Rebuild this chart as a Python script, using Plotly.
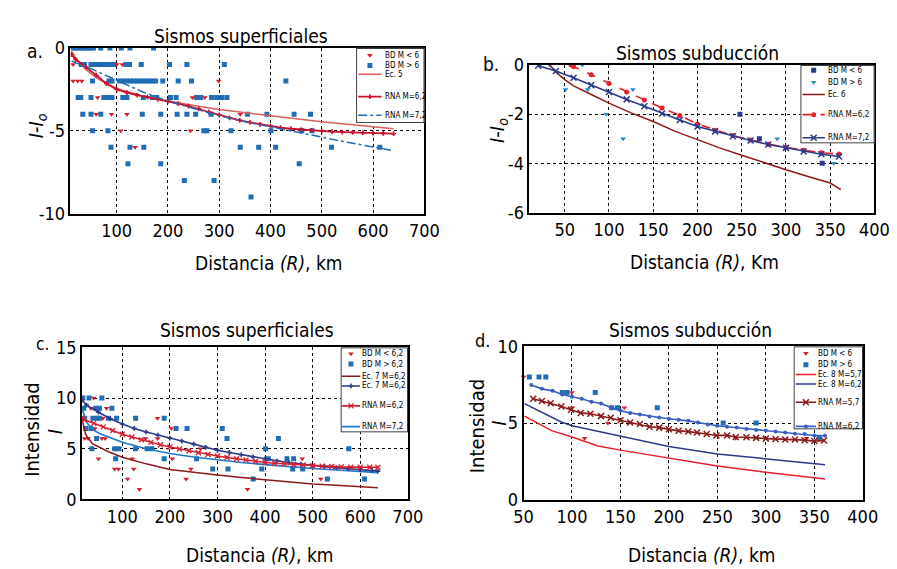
import plotly.graph_objects as go

W, H = 897, 569
FONT = "DejaVu Sans Condensed"

# ---------------- Panel a: Sismos superficiales (I - I0) ----------------
a_lt6_rows = [  # BD M < 6 (red triangles): (I-I0, distances)
    (-1, [15, 100, 111]),
    (-2, [15, 24, 32, 299]),
    (-3, [63, 248, 272]),
    (-4, [60, 90, 120, 341]),
    (-5, [108, 244]),
    (-6, [136]),
]
a_gt6_rows = [  # BD M > 6 (blue squares)
    (0, [15, 20, 25, 30, 35, 40, 45, 50, 55, 69, 87, 109, 126, 172]),
    (-1, [31, 37, 50, 55, 60, 65, 70, 75, 80, 87, 94, 118, 125, 148, 203, 237, 310]),
    (-2, [53, 85, 91, 106, 113, 120, 127, 134, 141, 148, 155, 162, 169, 176, 190, 220, 246, 430]),
    (-3, [25, 30, 50, 75, 83, 91, 112, 120, 152, 170, 178, 205, 216, 256, 264, 285, 295, 305, 315]),
    (-4, [34, 50, 69, 150, 186, 218, 237, 254, 284, 355, 393, 446, 478]),
    (-5, [53, 83, 270, 276, 323, 401, 461, 481]),
    (-6, [89, 126, 153, 341, 377, 410, 519, 613]),
    (-7, [122, 186, 456]),
    (-8, [232, 290]),
    (-9, [362]),
]
a_ec5_x = [12, 20, 40, 60, 80, 100, 150, 200, 250, 300, 350, 400, 450, 500, 550, 600, 640]
a_ec5_y = [-0.2, -0.6, -1.3, -1.8, -2.15, -2.45, -2.9, -3.2, -3.48, -3.72, -3.92, -4.1, -4.28, -4.46, -4.62, -4.76, -4.88]
a_rna62_x = [12, 20, 40, 60, 80, 100, 120, 140, 160, 180, 200, 220, 240, 260, 280, 300, 320, 340, 360,
             380, 400, 420, 440, 460, 480, 500, 520, 540, 560, 580, 600, 620, 640]
a_rna62_y = [-0.4, -0.7, -1.15, -1.65, -2.15, -2.5, -2.7, -2.85, -2.97, -3.1, -3.22, -3.37, -3.52, -3.68,
             -3.87, -4.05, -4.22, -4.37, -4.5, -4.62, -4.72, -4.82, -4.88, -4.93, -4.98, -5.02, -5.06,
             -5.08, -5.1, -5.12, -5.14, -5.16, -5.18]
a_rna72_x = [12, 50, 100, 150, 200, 250, 300, 350, 400, 450, 500, 550, 600, 640]
a_rna72_y = [-0.8, -1.25, -1.95, -2.65, -3.2, -3.65, -4.1, -4.45, -4.77, -5.08, -5.4, -5.7, -5.98, -6.2]

# ---------------- Panel b: Sismos subducción (I - I0) ----------------
b_lt6_x = [248, 270, 341]
b_lt6_y = [-2, -3, -4]
b_gt6_x = [22, 33, 60, 70, 51, 76, 127, 97, 116, 290, 354]
b_gt6_y = [0, 0, 0, 0, -1, -1, -1, -2, -3, -3, -4]
b_ec6_x = [33, 40, 50, 60, 80, 100, 125, 150, 175, 200, 225, 250, 275, 300, 325, 350, 362]
b_ec6_y = [0, -0.3, -0.6, -0.85, -1.2, -1.55, -1.95, -2.3, -2.7, -3.05, -3.37, -3.67, -3.97, -4.26, -4.53, -4.8, -5.07]
b_rna62_x = [57, 60, 80, 100, 120, 140, 160, 180, 200, 220, 240, 260, 280, 300, 320, 340, 360]
b_rna62_y = [0, -0.07, -0.4, -0.75, -1.1, -1.42, -1.75, -2.05, -2.4, -2.65, -2.87, -3.05, -3.22, -3.35,
             -3.47, -3.57, -3.62]
b_rna72_x = [20, 40, 60, 80, 100, 120, 140, 160, 180, 200, 220, 240, 260, 280, 300, 320, 340, 360]
b_rna72_y = [-0.03, -0.25, -0.52, -0.82, -1.1, -1.4, -1.68, -1.97, -2.24, -2.5, -2.7, -2.9, -3.07, -3.23,
             -3.37, -3.52, -3.63, -3.72]

# ---------------- Panel c: Sismos superficiales (Intensidad) ----------------
c_lt62_x = [15, 21, 28, 34, 40, 42, 50, 57, 64, 67, 59, 84, 92, 111, 121, 124, 136, 149, 174, 174,
            203, 205, 234, 244, 264, 363, 478, 517]
c_lt62_y = [8, 6, 6, 9, 10, 7, 4, 6, 6, 9, 8, 3, 3, 2, 4, 3, 1, 6, 8, 6, 7, 4, 2, 3, 5, 1, 4, 2]
c_gt62_x = [17, 19, 21, 23, 30, 34, 36, 38, 44, 47, 46, 52, 52, 57, 71, 78, 84, 86, 88, 93, 128, 128,
            152, 162, 188, 188, 213, 236, 256, 290, 310, 320, 322, 375, 393, 401, 407, 428, 446, 460,
            458, 479, 531, 576, 609]
c_gt62_y = [10, 9, 8, 7, 10, 7, 5, 8, 9, 8, 6, 9, 8, 10, 8, 9, 5, 4, 8, 5, 8, 5, 5, 5, 8, 4, 7, 7,
            4, 3, 7, 6, 3, 2, 3, 5, 4, 6, 4, 4, 3, 3, 2, 5, 2]
c_ec7a_x = [15, 23, 37, 54, 71, 100, 150, 200, 250, 300, 350, 400, 450, 500, 550, 600, 637]
c_ec7a_y = [8.0, 6.4, 5.5, 5.1, 4.7, 4.15, 3.5, 2.95, 2.65, 2.4, 2.15, 1.93, 1.72, 1.52, 1.38, 1.27, 1.14]
c_ec7b_x = [15, 25, 50, 75, 100, 125, 150, 175, 200, 225, 250, 275, 300, 325, 350, 375, 400, 425, 450,
            475, 500, 525, 550, 575, 600, 625, 637]
c_ec7b_y = [9.8, 9.3, 8.6, 7.95, 7.43, 7.0, 6.65, 6.33, 6.04, 5.75, 5.45, 5.13, 4.84, 4.62, 4.4, 4.18,
            3.99, 3.8, 3.63, 3.47, 3.32, 3.22, 3.12, 3.03, 2.94, 2.85, 2.78]
c_rna62_x = [15, 20, 40, 60, 80, 100, 120, 140, 160, 180, 200, 220, 240, 260, 280, 300, 320, 340, 360,
             380, 400, 420, 440, 460, 480, 500, 520, 540, 560, 580, 600, 620, 637]
c_rna62_y = [8.0, 7.85, 7.5, 7.15, 6.8, 6.42, 6.15, 5.88, 5.62, 5.38, 5.16, 4.97, 4.8, 4.6, 4.42, 4.27,
             4.13, 4.0, 3.88, 3.76, 3.64, 3.56, 3.5, 3.44, 3.38, 3.32, 3.28, 3.24, 3.2, 3.18, 3.16, 3.16, 3.16]
c_rna72_x = [15, 25, 37, 50, 64, 80, 100, 150, 200, 250, 300, 350, 400, 450, 500, 550, 600, 637]
c_rna72_y = [9.0, 7.6, 6.9, 6.55, 6.27, 5.95, 5.63, 5.0, 4.53, 4.18, 3.89, 3.64, 3.42, 3.22, 3.04, 2.9,
             2.78, 2.63]

# ---------------- Panel d: Sismos subducción (Intensidad) ----------------
d_lt6_x = [50, 100, 100, 113, 137, 154, 269, 342]
d_lt6_y = [8, 7, 6, 4, 5, 6, 4, 4]
d_gt6_x = [56, 66, 73, 90, 95, 124, 141, 147, 188, 256, 290, 355]
d_gt6_y = [8, 8, 8, 7, 7, 7, 6, 6, 6, 5, 5, 4]
d_ec857_x = [51, 79, 100, 127, 150, 200, 250, 300, 350, 361]
d_ec857_y = [5.45, 4.5, 4.09, 3.5, 3.23, 2.7, 2.2, 1.78, 1.4, 1.34]
d_ec862_x = [51, 89, 100, 150, 200, 250, 300, 350, 361]
d_ec862_y = [6.27, 5.07, 4.82, 4.13, 3.46, 2.98, 2.66, 2.35, 2.28]
d_rna57_x = [60, 69, 78, 89, 99, 109, 119, 130, 140, 150, 160, 170, 180, 190, 200, 210, 220, 229, 239,
             249, 260, 269, 280, 290, 300, 310, 320, 330, 340, 350, 360]
d_rna57_y = [6.58, 6.44, 6.29, 6.08, 5.87, 5.66, 5.6, 5.45, 5.35, 5.18, 5.03, 4.93, 4.76, 4.7, 4.59, 4.49,
             4.44, 4.38, 4.28, 4.19, 4.19, 4.09, 4.07, 4.03, 3.98, 3.96, 3.92, 3.92, 3.88, 3.82, 3.86]
d_rna62_x = [58, 69, 80, 90, 100, 110, 120, 130, 140, 150, 160, 170, 180, 190, 200, 210, 220, 230, 240,
             250, 260, 270, 280, 290, 300, 310, 320, 330, 340, 350, 361]
d_rna62_y = [7.48, 7.23, 7.1, 6.86, 6.71, 6.58, 6.39, 6.27, 6.02, 5.81, 5.66, 5.56, 5.42, 5.36, 5.28,
             5.22, 5.14, 5.03, 4.91, 4.82, 4.76, 4.7, 4.61, 4.55, 4.51, 4.44, 4.38, 4.3, 4.28, 4.19, 4.17]

# ---------------- styles ----------------
RED_T = "#d2202e"
BLUE_S = "#1f6db5"
NAVY = "#2b3a8a"
DARKRED = "#8b1a1a"
LIGHTRED = "#d9605a"
CRIMSON = "#c8102e"
LBLUE = "#1f8ad0"
RED2 = "#e4202a"

TRI = dict(symbol="triangle-down", size=5, color=RED_T)
SQ = dict(symbol="square", size=5, color=BLUE_S)

fig = go.Figure()


def dom_x(p0, p1):
    return [p0 / W, p1 / W]


def dom_y(p0, p1):
    return [1 - p1 / H, 1 - p0 / H]


def rows_xy(rows):
    xs, ys = [], []
    for yv, xl in rows:
        xs += xl
        ys += [yv] * len(xl)
    return xs, ys


def add(ax, x, y, mode, line=None, marker=None, clip=True):
    fig.add_trace(go.Scatter(x=x, y=y, mode=mode, line=line, marker=marker, showlegend=False,
                             hoverinfo="skip", cliponaxis=clip,
                             xaxis="x" + ("" if ax == 1 else str(ax)),
                             yaxis="y" + ("" if ax == 1 else str(ax))))


# Panel a
ax_, ay_ = rows_xy(a_gt6_rows)
add(1, ax_, ay_, "markers", marker=SQ)
ax_, ay_ = rows_xy(a_lt6_rows)
add(1, ax_, ay_, "markers", marker=TRI)
A_EC5 = dict(color=LIGHTRED, width=1.5)
A_R62 = dict(color=CRIMSON, width=1.8)
A_R62M = dict(symbol="cross", size=4, color=CRIMSON)
A_R72 = dict(color=BLUE_S, width=1.5, dash="dashdot")
add(1, a_ec5_x, a_ec5_y, "lines", line=A_EC5)
add(1, a_rna62_x, a_rna62_y, "lines+markers", line=A_R62, marker=A_R62M)
add(1, a_rna72_x, a_rna72_y, "lines", line=A_R72)

# Panel b
B_SQ = dict(symbol="square", size=5, color=NAVY)
B_TRI = dict(symbol="triangle-down", size=5, color=LBLUE)
B_EC6 = dict(color=DARKRED, width=1.5)
B_R62 = dict(color=RED2, width=1.6, dash="dash")
B_R62M = dict(symbol="circle", size=5, color=RED2)
B_R72 = dict(color=NAVY, width=1.6)
B_R72M = dict(symbol="x-thin", size=6, color=NAVY, line=dict(width=1.5, color=NAVY))
add(2, b_lt6_x, b_lt6_y, "markers", marker=B_SQ)
add(2, b_gt6_x, b_gt6_y, "markers", marker=B_TRI)
add(2, b_ec6_x, b_ec6_y, "lines", line=B_EC6)
add(2, b_rna62_x, b_rna62_y, "lines+markers", line=B_R62, marker=B_R62M)
add(2, b_rna72_x, b_rna72_y, "lines+markers", line=B_R72, marker=B_R72M)

# Panel c
C_EC7A = dict(color=DARKRED, width=1.5)
C_EC7B = dict(color=NAVY, width=1.6)
C_EC7BM = dict(symbol="cross", size=4, color=NAVY)
C_R62 = dict(color="#d42030", width=1.6)
C_R62M = dict(symbol="x-thin", size=5, color="#d42030", line=dict(width=1.3, color="#d42030"))
C_R72 = dict(color="#1f78c8", width=1.6)
add(3, c_lt62_x, c_lt62_y, "markers", marker=TRI)
add(3, c_gt62_x, c_gt62_y, "markers", marker=SQ)
add(3, c_ec7a_x, c_ec7a_y, "lines", line=C_EC7A)
add(3, c_rna72_x, c_rna72_y, "lines", line=C_R72)
add(3, c_ec7b_x, c_ec7b_y, "lines+markers", line=C_EC7B, marker=C_EC7BM)
add(3, c_rna62_x, c_rna62_y, "lines+markers", line=C_R62, marker=C_R62M)

# Panel d
D_EC57 = dict(color=RED2, width=1.5)
D_EC62 = dict(color=NAVY, width=1.5)
D_R57 = dict(color=DARKRED, width=1.6)
D_R57M = dict(symbol="x-thin", size=6, color=DARKRED, line=dict(width=1.5, color=DARKRED))
D_R62 = dict(color="#3a5fc0", width=1.6)
D_R62M = dict(symbol="circle", size=4, color="#3a5fc0")
add(4, d_lt6_x, d_lt6_y, "markers", marker=TRI, clip=False)
add(4, d_gt6_x, d_gt6_y, "markers", marker=SQ)
add(4, d_ec857_x, d_ec857_y, "lines", line=D_EC57)
add(4, d_ec862_x, d_ec862_y, "lines", line=D_EC62)
add(4, d_rna57_x, d_rna57_y, "lines+markers", line=D_R57, marker=D_R57M)
add(4, d_rna62_x, d_rna62_y, "lines+markers", line=D_R62, marker=D_R62M)

# ---------------- axes ----------------
TICKF = dict(family=FONT, size=18, color="black")


def axis(domain, rng, tickvals, ticktext=None):
    d = dict(domain=domain, range=rng, tickvals=tickvals, showline=True, mirror=True,
             linecolor="black", linewidth=1.5, showgrid=True, gridcolor="black", griddash="dot",
             gridwidth=1, ticks="", zeroline=False, tickfont=TICKF, fixedrange=True)
    if ticktext is not None:
        d["ticktext"] = ticktext
    return d


a_xticks = [100, 200, 300, 400, 500, 600, 700]
a_yticks = [0, -5, -10]
b_xticks = [50, 100, 150, 200, 250, 300, 350, 400]
b_yticks = [0, -2, -4, -6]
c_xticks = [100, 200, 300, 400, 500, 600, 700]
c_yticks = [0, 5, 10, 15]
d_xticks = [50, 100, 150, 200, 250, 300, 350, 400]
d_yticks = [0, 5, 10]

layout = dict(
    width=W, height=H, margin=dict(l=0, r=0, t=0, b=0),
    paper_bgcolor="white", plot_bgcolor="white", showlegend=False,
    font=dict(family=FONT, color="black"),
    xaxis=axis(dom_x(54, 418), [10, 700], a_xticks),
    yaxis=axis(dom_y(30, 202), [-10, 0], a_yticks, [str(v) for v in a_yticks]),
    xaxis2=axis(dom_x(526, 881), [10, 400], b_xticks),
    yaxis2=axis(dom_y(47.7, 201), [-6, 0], b_yticks, [str(v) for v in b_yticks]),
    xaxis3=axis(dom_x(65.7, 401), [15, 700], c_xticks),
    yaxis3=axis(dom_y(341, 498.7), [0, 15], c_yticks),
    xaxis4=axis(dom_x(520, 869), [50, 400], d_xticks),
    yaxis4=axis(dom_y(340, 499), [0, 10], d_yticks),
)
for k in ["xaxis", "xaxis2", "xaxis3", "xaxis4"]:
    layout[k]["anchor"] = "y" + k[5:]
for k in ["yaxis", "yaxis2", "yaxis3", "yaxis4"]:
    layout[k]["anchor"] = "x" + k[5:]

annotations = []


def text(x, y, s, size=20, angle=0, xanchor="center", xref="paper", yref="paper"):
    annotations.append(dict(x=x / W if xref == "paper" else x, y=1 - y / H if yref == "paper" else y,
                            xref=xref, yref=yref, text=s, showarrow=False, textangle=angle,
                            xanchor=xanchor, yanchor="middle",
                            font=dict(family=FONT, size=size, color="black")))


# titles
text(229, 18, "Sismos superficiales", 19)
text(699, 35, "Sismos subducción", 19)
text(236, 323, "Sismos superficiales", 19)
text(692, 323, "Sismos subducción", 19)
# x titles
text(258, 253, "Distancia <i>(R)</i>, km", 19)
text(706, 252, "Distancia <i>(R)</i>, Km", 19)
text(249, 557, "Distancia <i>(R)</i>, km", 19)
text(704, 557, "Distancia <i>(R)</i>, km", 19)
# y titles
text(19, 111, "<i>I</i>-<i>I</i><sub><i>o</i></sub>", 20, angle=-90)
text(493, 116, "<i>I</i>-<i>I</i><sub><i>o</i></sub>", 20, angle=-90)
text(15, 426, "Intensidad", 20, angle=-90)
text(38, 428, "<i>I</i>", 20, angle=-90)
text(473, 422, "Intensidad", 20, angle=-90)
text(495, 420, "<i>I</i>", 20, angle=-90)
# panel letters
text(17, 33, "a.", 19)
text(487, 47, "b.", 19)
text(25, 337, "c.", 17)
text(478, 334, "d.", 18)

# ---------------- legends (boxes drawn on auxiliary axes in pixel units) ----------------
legends = [
    # (box x0, y0, x1, y1, line x0, line x1, text x, entries)
    (348, 30, 418, 108, 350, 374, 376, [
        (37.7, "BD M < 6", None, TRI),
        (48.3, "BD M > 6", None, SQ),
        (57.3, "Ec. 5", A_EC5, None),
        (80.7, "RNA M=6,2", A_R62, A_R62M),
        (100, "RNA M=7,2", A_R72, None)]),
    (805, 47.7, 881, 129, 807, 830, 832, [
        (53.3, "BD M < 6", None, B_SQ),
        (65.7, "BD M > 6", None, B_TRI),
        (78.3, "Ec. 6", B_EC6, None),
        (99.3, "RNA M=6,2", B_R62, B_R62M),
        (123.3, "RNA M=7,2", B_R72, B_R72M)]),
    (332, 341, 401, 429, 333, 352, 353, [
        (347.7, "BD M < 6,2", None, TRI),
        (358.3, "BD M > 6,2", None, SQ),
        (371, "Ec. 7 M=6,2", C_EC7A, None),
        (381, "Ec. 7 M=6,2", C_EC7B, C_EC7BM),
        (401.7, "RNA M=6,2", C_R62, C_R62M),
        (423.3, "RNA M=7,2", C_R72, None)]),
    (798, 340, 869, 426, 800, 821, 822, [
        (347, "BD M < 6", None, TRI),
        (359, "BD M > 6", None, SQ),
        (369, "Ec. 8 M=5,7", D_EC57, None),
        (379, "Ec. 8 M=6,2", D_EC62, None),
        (398, "RNA M=5,7", D_R57, D_R57M),
        (423, "RNA M=6,2", D_R62, D_R62M)]),
]

for i, (bx0, by0, bx1, by1, lx0, lx1, tx, entries) in enumerate(legends):
    n = 5 + i
    xa, ya = "x%d" % n, "y%d" % n
    layout["xaxis%d" % n] = dict(domain=dom_x(bx0, bx1), range=[bx0, bx1], visible=False,
                                 anchor=ya, fixedrange=True)
    layout["yaxis%d" % n] = dict(domain=dom_y(by0, by1), range=[by1, by0], visible=False,
                                 anchor=xa, fixedrange=True)
    fig.add_trace(go.Scatter(x=[bx0, bx1, bx1, bx0, bx0], y=[by0, by0, by1, by1, by0], mode="lines",
                             fill="toself", fillcolor="white", line=dict(color="black", width=1.5),
                             xaxis=xa, yaxis=ya, showlegend=False, hoverinfo="skip", cliponaxis=False))
    for (ey, label, lstyle, mstyle) in entries:
        xm = (lx0 + lx1) / 2
        if lstyle is not None:
            fig.add_trace(go.Scatter(x=[lx0, lx1], y=[ey, ey], mode="lines", line=lstyle,
                                     xaxis=xa, yaxis=ya, showlegend=False, hoverinfo="skip"))
        if mstyle is not None:
            fig.add_trace(go.Scatter(x=[xm], y=[ey], mode="markers", marker=mstyle,
                                     xaxis=xa, yaxis=ya, showlegend=False, hoverinfo="skip"))
        annotations.append(dict(x=tx, y=ey, xref=xa, yref=ya, text=label, showarrow=False,
                                xanchor="left", yanchor="middle", borderpad=0,
                                font=dict(family=FONT, size=8, color="black")))

layout["annotations"] = annotations
fig.update_layout(**layout)
fig.write_html("out.html")
